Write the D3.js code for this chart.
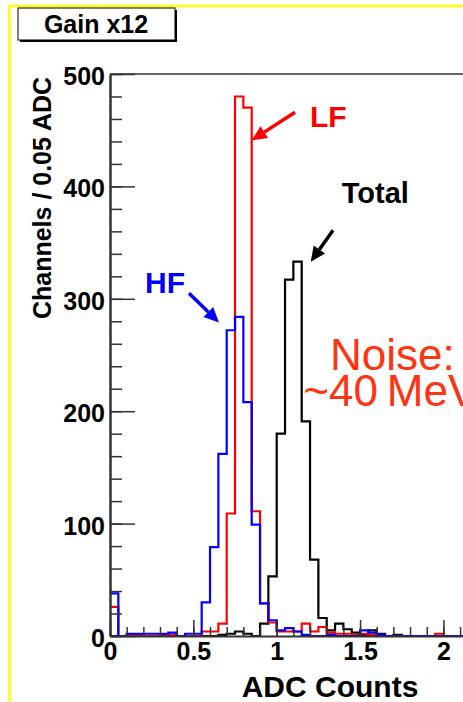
<!DOCTYPE html>
<html lang="en">
<head>
    <meta charset="UTF-8">
    <title>Gain x12 - ADC Counts</title>
    <script src="https://d3js.org/d3.v7.min.js"></script>
    <style>
        body {
            margin: 0;
            background-color: #ffffff;
        }
        svg {
            display: block;
            font-family: Arial, "Liberation Sans", sans-serif;
        }
        .axis text {
            font-size: 25px;
            font-weight: bold;
            fill: #000;
        }
        .axis line, .axis path {
            stroke: #333;
        }
    </style>
</head>
<body>
    <svg id="chart" width="463" height="702"></svg>

    <script>
        // bin lower edges, width 0.05 ADC
        const binWidth = 0.05;
        const binStarts = d3.range(50).map(i => +(i * binWidth).toFixed(2));

        // Channels per bin
        const totalCounts = [0, 0, 0, 0, 0, 0, 1, 0, 0, 0,
                             0, 0, 0, 1, 2, 4, 2, 0, 11, 53,
                             180, 317, 333, 191, 68, 16, 5, 11, 6, 3,
                             1, 5, 2, 0, 1, 0, 0, 0, 0, 0,
                             0, 0, 0, 0, 0, 0, 0, 0, 0, 0];
        const lfCounts = [26, 0, 1, 1, 0, 0, 1, 1, 0, 0,
                          0, 4, 4, 11, 109, 480, 470, 111, 29, 12,
                          4, 4, 4, 11, 4, 8, 3, 2, 2, 1,
                          2, 1, 1, 0, 0, 0, 0, 0, 0, 2,
                          0, 0, 0, 0, 0, 0, 0, 0, 0, 0];
        const hfCounts = [38, 0, 2, 2, 2, 2, 2, 3, 0, 2,
                          2, 30, 79, 162, 272, 284, 208, 99, 29, 14,
                          5, 7, 4, 1, 0, 0, 1, 0, 0, 0,
                          5, 3, 1, 0, 0, 0, 0, 0, 0, 0,
                          0, 0, 0, 0, 0, 0, 0, 0, 0, 0];

        const xMajorTicks = [0, 0.5, 1, 1.5, 2];
        const yMajorTicks = [0, 100, 200, 300, 400, 500];

        const svg = d3.select('#chart');

        const plotLeft = 110, plotTop = 74, plotBottom = 636;
        const x = d3.scaleLinear().domain([0, 2.5]).range([plotLeft, plotLeft + 2.5 * 166.7]);
        const y = d3.scaleLinear().domain([0, 500]).range([plotBottom, plotTop]);

        // yellow frame
        svg.append('line').attr('x1', 9.5).attr('x2', 9.5).attr('y1', 5).attr('y2', 702)
            .attr('stroke', '#ffff00').attr('stroke-width', 2.5);
        svg.append('line').attr('x1', 9).attr('x2', 463).attr('y1', 6).attr('y2', 6)
            .attr('stroke', '#ffff00').attr('stroke-width', 2.5);

        // title box with shadow
        svg.append('rect').attr('x', 20).attr('y', 10).attr('width', 157).attr('height', 32).attr('fill', '#000');
        svg.append('rect').attr('x', 18).attr('y', 8).attr('width', 157).attr('height', 32)
            .attr('fill', '#fff').attr('stroke', '#000').attr('stroke-width', 1);
        svg.append('text').attr('x', 96).attr('y', 33).attr('text-anchor', 'middle')
            .style('font-size', '25px').style('font-weight', 'bold').text('Gain x12');

        // frame top
        svg.append('line').attr('x1', plotLeft).attr('x2', 463).attr('y1', plotTop).attr('y2', plotTop)
            .attr('stroke', '#333').attr('stroke-width', 1.5);

        // histograms
        function stepPoints(counts) {
            const pts = binStarts.map((b, i) => [b, counts[i]]);
            pts.push([binStarts[binStarts.length - 1] + binWidth, 0]);
            return pts;
        }
        const line = d3.line()
            .x(d => x(d[0]))
            .y(d => y(d[1]))
            .curve(d3.curveStepAfter);

        [[totalCounts, '#000000'], [lfCounts, '#ff0000'], [hfCounts, '#0000ff']].forEach(([c, col]) => {
            svg.append('path')
                .datum(stepPoints(c))
                .attr('d', line)
                .attr('fill', 'none')
                .attr('stroke', col)
                .attr('stroke-width', 2.2);
        });

        // y axis: minor then major
        svg.append('g').attr('class', 'axis').attr('transform', `translate(${plotLeft},0)`)
            .call(d3.axisLeft(y).tickValues(d3.range(0, 501, 20)).tickSize(-12).tickSizeOuter(0).tickFormat(''))
            .call(g => g.selectAll('line').attr('stroke-width', 1.5));
        svg.append('g').attr('class', 'axis').attr('transform', `translate(${plotLeft},0)`)
            .call(d3.axisLeft(y).tickValues(yMajorTicks).tickSize(-25).tickSizeOuter(0).tickPadding(5))
            .call(g => g.select('.domain').attr('stroke-width', 2.5))
            .call(g => g.selectAll('line').attr('stroke-width', 1.5))
            .call(g => g.selectAll('text').attr('dy', '0.42em'));

        // x axis
        svg.append('g').attr('class', 'axis').attr('transform', `translate(0,${plotBottom})`)
            .call(d3.axisBottom(x).tickValues(d3.range(0, 26).map(i => i / 10)).tickSize(-9).tickSizeOuter(0).tickFormat(''))
            .call(g => g.selectAll('line').attr('stroke-width', 1.5));
        svg.append('g').attr('class', 'axis').attr('transform', `translate(0,${plotBottom})`)
            .call(d3.axisBottom(x).tickValues(xMajorTicks).tickSize(-16).tickSizeOuter(0).tickPadding(6)
                .tickFormat(d3.format('')))
            .call(g => g.select('.domain').attr('stroke-width', 2))
            .call(g => g.selectAll('line').attr('stroke-width', 1.5));

        // axis titles
        svg.append('text').attr('transform', 'translate(51,198) rotate(-90)')
            .attr('text-anchor', 'middle').style('font-size', '25px').style('font-weight', 'bold')
            .text('Channels / 0.05 ADC');
        svg.append('text').attr('x', 330).attr('y', 697).attr('text-anchor', 'middle')
            .style('font-size', '30px').style('font-weight', 'bold').text('ADC Counts');

        // annotations
        function arrow(x0, y0, x1, y1, col) {
            const sx = x(x0), sy = y(y0), tx = x(x1), ty = y(y1);
            const ang = Math.atan2(ty - sy, tx - sx);
            const headL = 15, headW = 7;
            const bx = tx - headL * Math.cos(ang), by = ty - headL * Math.sin(ang);
            svg.append('line').attr('x1', sx).attr('y1', sy).attr('x2', bx).attr('y2', by)
                .attr('stroke', col).attr('stroke-width', 3.5);
            const px = -Math.sin(ang) * headW, py = Math.cos(ang) * headW;
            svg.append('path')
                .attr('d', `M${tx},${ty}L${bx + px},${by + py}L${bx - px},${by - py}Z`)
                .attr('fill', col);
        }
        function label(xv, yv, txt, col, size, weight) {
            svg.append('text').attr('x', x(xv)).attr('y', y(yv))
                .style('font-size', size + 'px').style('font-weight', weight)
                .attr('fill', col).text(txt);
        }

        arrow(1.11, 466, 0.85, 441, '#ff0000');
        label(1.2, 453, 'LF', '#ff0000', 30, 'bold');
        arrow(1.338, 361, 1.204, 333, '#000000');
        label(1.39, 385, 'Total', '#000000', 29, 'bold');
        arrow(0.474, 305, 0.654, 279, '#0000ff');
        label(0.21, 305, 'HF', '#0000ff', 30, 'bold');
        label(1.32, 237, 'Noise:', '#ff3311', 44, 'normal');
        label(1.16, 205, '~40\u2009MeV', '#ff3311', 44, 'normal');
    </script>
</body>
</html>
